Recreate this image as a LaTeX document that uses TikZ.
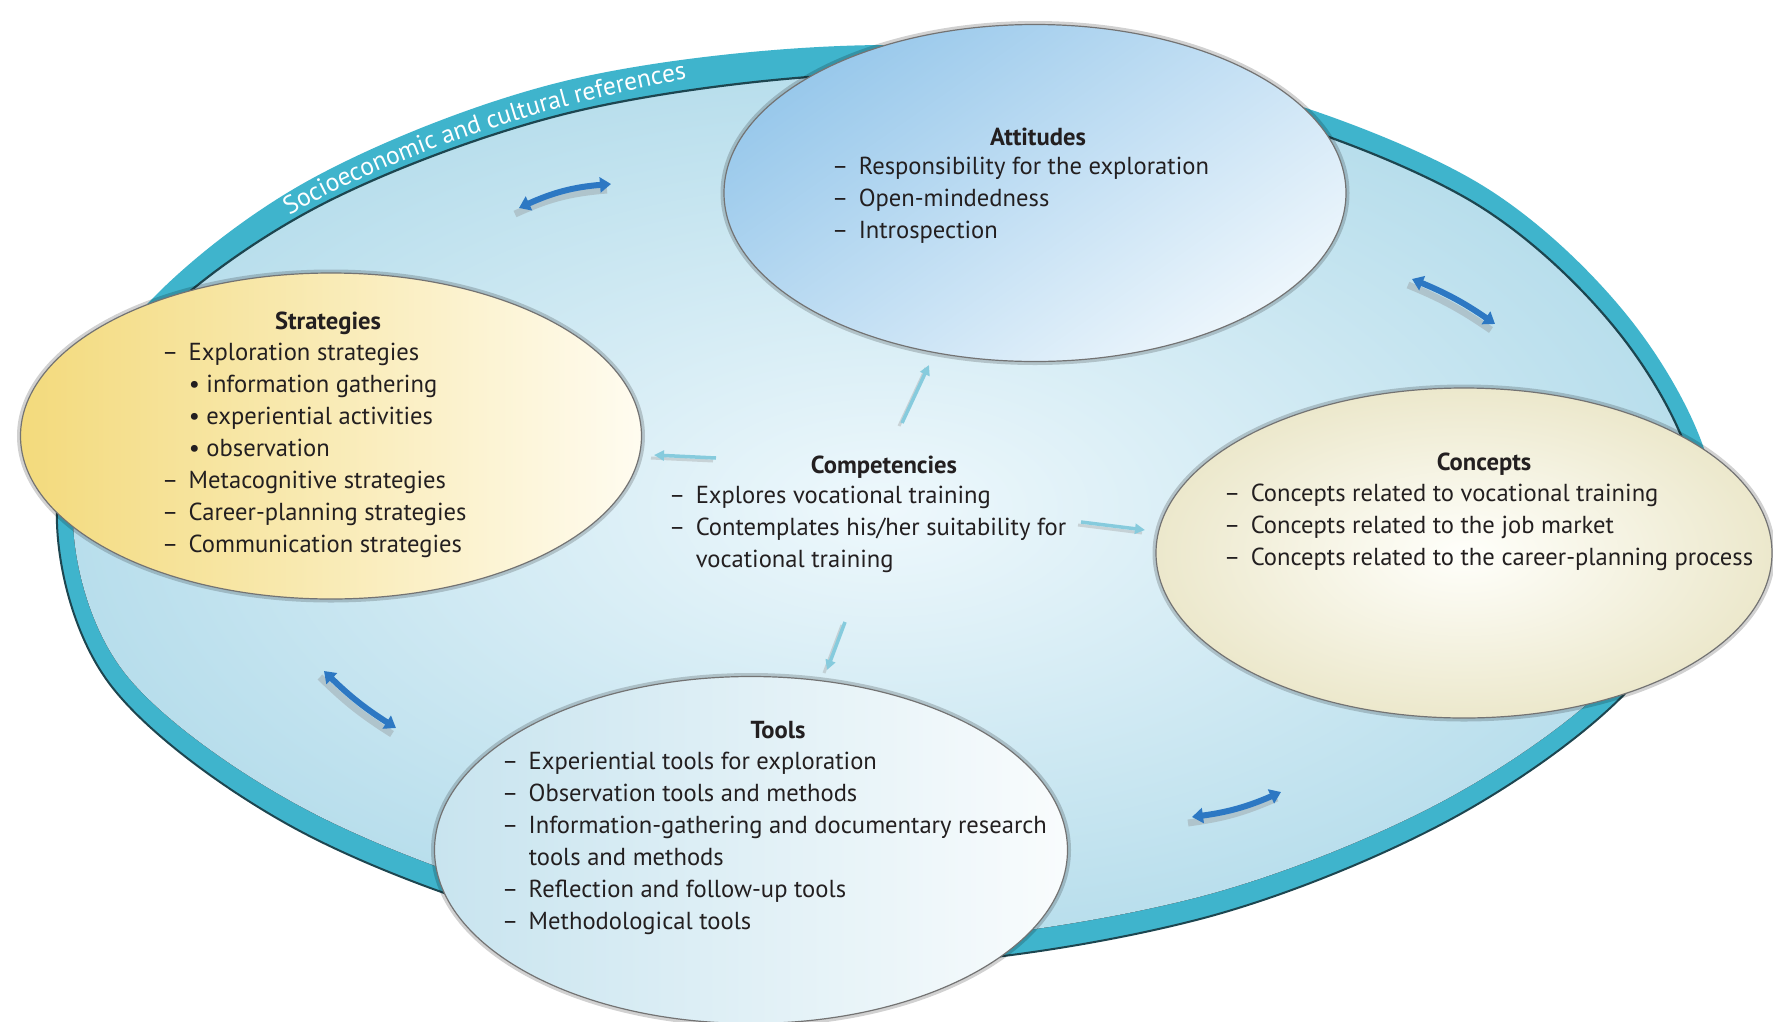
\documentclass[tikz,border=0pt]{standalone}
\usepackage{fontspec}
\setmainfont{PT Sans}
\usetikzlibrary{shapes.geometric,arrows.meta,decorations.text}

\definecolor{ringteal}{HTML}{3FB4CC}
\definecolor{ringedge}{HTML}{1D4650}
\definecolor{fieldout}{HTML}{B8DEEC}
\definecolor{fieldin}{HTML}{EEF8FC}
\definecolor{linkblue}{HTML}{2D78C3}
\definecolor{flowcyan}{HTML}{86CBDD}
\definecolor{attdark}{HTML}{98C8EB}
\definecolor{attlight}{HTML}{EDF6FC}
\definecolor{strdark}{HTML}{F3DA7C}
\definecolor{strlight}{HTML}{FFFCF0}
\definecolor{condark}{HTML}{ECE8CC}
\definecolor{conlight}{HTML}{FFFFFB}
\definecolor{tooldark}{HTML}{C8E4EF}
\definecolor{toollight}{HTML}{F9FCFD}
\definecolor{inkgray}{HTML}{231F20}

\newcommand{\itemfont}{\fontsize{24.6}{32}\selectfont}
\newcommand{\headfont}{\fontsize{24.6}{32}\selectfont\bfseries}
\newcommand{\dsh}{–\hspace{0.42em}}
\newcommand{\ind}{\phantom{–}\hspace{0.42em}}
\newcommand{\itemlines}[1]{\begin{tabular}[t]{@{}l@{}}#1\end{tabular}}
% outer and inner edge of the ring
\newcommand{\ringout}{plot[smooth cycle, tension=0.55] coordinates {(1715,505) (1640,677) (1455,817) (1200,919) (888,965) (569,930) (298,830) (109,683) (57,505) (124,331) (304,183) (569,80) (888,45) (1208,80) (1475,181) (1640,332)}}
\newcommand{\ringin}{plot[smooth cycle, tension=0.55] coordinates {(1698,505) (1626,666) (1445,800) (1195,898) (888,942) (574,908) (309,811) (124,672) (73,505) (138,342) (317,207) (577,111) (888,73) (1203,100) (1466,198) (1626,342)}}

\tikzset{
  blob/.style={ellipse, inner sep=0pt, draw=black!55, line width=1.2pt,
    preaction={draw=black, line width=7pt, opacity=0.18}},
  head/.style={font=\headfont, text=inkgray, inner sep=0pt, anchor=base},
  items/.style={font=\itemfont, text=inkgray, inner sep=0pt, anchor=base west},
  link/.style={draw=linkblue, line width=6pt, {Triangle[width=15pt,length=11pt]}-{Triangle[width=15pt,length=11pt]}},
  linkshade/.style={draw=black!45, opacity=0.35, line width=7pt, transform canvas={shift={(-4pt,-6pt)}}},
  flow/.style={draw=flowcyan, line width=3.5pt, -{Triangle[width=10pt,length=10pt]}},
  flowshade/.style={draw=black!40, opacity=0.35, line width=3pt, transform canvas={shift={(-3pt,-3pt)}}},
}

\begin{document}
\begin{tikzpicture}[x=1pt, y=-1pt]
  \path[use as bounding box, fill=white] (0,0) rectangle (1773,1021);

  % outer ring
  \fill[ringteal] \ringout;
  \begin{scope}
    \clip (0,470) rectangle (1773,1021);
    \draw[ringedge, line width=2pt] \ringout;
  \end{scope}
  \fill[inner color=fieldin, outer color=fieldout] \ringin;
  \begin{scope}
    \clip (0,0) rectangle (1773,470);
    \draw[ringedge, line width=2.2pt] \ringin;
  \end{scope}
  \path[decorate, decoration={text along path, text align=center,
      text={|\color{white}\fontsize{25.5}{25.5}\selectfont|Socioeconomic and cultural references}}]
    (276,224) .. controls (360,170) and (520,108) .. (702,76);

  % links along the ring
  \coordinate (l1a) at (519,208);  \coordinate (l1b) at (611,184);
  \coordinate (l2a) at (1412,279); \coordinate (l2b) at (1495,324);
  \coordinate (l3a) at (324,671);  \coordinate (l3b) at (396,728);
  \coordinate (l4a) at (1192,817); \coordinate (l4b) at (1281,792);
  \draw[linkshade] (l1a) to[bend left=10] (l1b);
  \draw[linkshade] (l2a) to[bend left=6] (l2b);
  \draw[linkshade] (l3a) to[bend right=6] (l3b);
  \draw[linkshade] (l4a) to[bend right=8] (l4b);
  \draw[link] (l1a) to[bend left=10] (l1b);
  \draw[link] (l2a) to[bend left=6] (l2b);
  \draw[link] (l3a) to[bend right=6] (l3b);
  \draw[link] (l4a) to[bend right=8] (l4b);

  % flows out of the competencies
  \coordinate (fu1) at (902,423);  \coordinate (fu2) at (929,365);
  \coordinate (fl1) at (716,458);  \coordinate (fl2) at (654,455);
  \coordinate (fr1) at (1081,522); \coordinate (fr2) at (1145,530);
  \coordinate (fd1) at (845,622);  \coordinate (fd2) at (827,670);
  \foreach \a/\b in {fu1/fu2, fl1/fl2, fr1/fr2, fd1/fd2} {
    \draw[flowshade] (\a) -- (\b);
    \draw[flow] (\a) -- (\b);
  }

  % the four ellipses
  \node[blob, minimum width=622, minimum height=337, top color=attdark, bottom color=attlight, shading angle=35] (att) at (1035,193) {};
  \node[blob, minimum width=621, minimum height=326, left color=strdark, right color=strlight] (strat) at (331,436) {};
  \node[blob, minimum width=616, minimum height=330, inner color=conlight, outer color=condark] (conc) at (1464,553) {};
  \node[blob, minimum width=633, minimum height=347, left color=tooldark, right color=toollight] (tools) at (751,850) {};

  % texts
  \node[head] (atth) at (1038,145) {Attitudes};
  \node[items] (attl) at (832,174) {\itemlines{\dsh Responsibility for the exploration\\ \dsh Open-mindedness\\ \dsh Introspection}};
  \node[head] (strath) at (328,329) {Strategies};
  \node[items] (stratl) at (162,360) {\itemlines{\dsh Exploration strategies\\ \ind • information gathering\\ \ind • experiential activities\\ \ind • observation\\ \dsh Metacognitive strategies\\ \dsh Career-planning strategies\\ \dsh Communication strategies}};
  \node[head] (comph) at (884,473) {Competencies};
  \node[items] (compl) at (669,503) {\itemlines{\dsh Explores vocational training\\ \dsh Contemplates his/her suitability for\\ \ind vocational training}};
  \node[head] (conch) at (1484,470) {Concepts};
  \node[items] (concl) at (1224,501) {\itemlines{\dsh Concepts related to vocational training\\ \dsh Concepts related to the job market\\ \dsh Concepts related to the career-planning process}};
  \node[head] (toolsh) at (778,738) {Tools};
  \node[items] (toolsl) at (502,769) {\itemlines{\dsh Experiential tools for exploration\\ \dsh Observation tools and methods\\ \dsh Information-gathering and documentary research\\ \ind tools and methods\\ \dsh Reflection and follow-up tools\\ \dsh Methodological tools}};
\end{tikzpicture}
\end{document}
